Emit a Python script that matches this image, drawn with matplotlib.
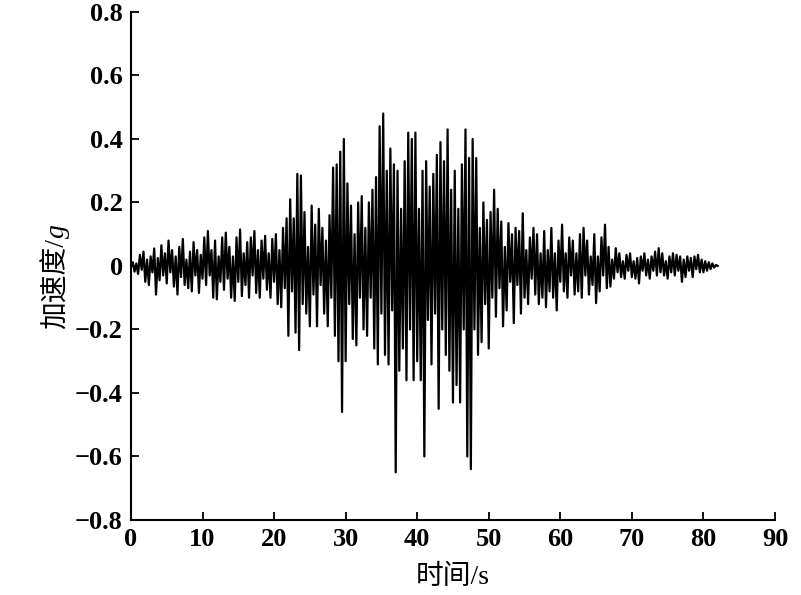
import numpy as np
import matplotlib
matplotlib.use("Agg")
import matplotlib.pyplot as plt
from matplotlib.ticker import FuncFormatter

plt.rcParams['font.family'] = ['Liberation Serif', 'Noto Sans CJK SC']

# ground acceleration record (g), one sample every 0.25 s
dt = 0.25
acc_00_10 = [0.0, 0.012, -0.018, 0.008, -0.025, 0.035, -0.012, 0.045, -0.05, 0.02,
             -0.06, 0.03, -0.02, 0.055, -0.09, 0.025, -0.045, 0.065, -0.03, 0.04,
             -0.055, 0.08, -0.02, 0.05, -0.065, 0.03, -0.09, 0.06, -0.035, 0.085,
             -0.06, 0.02, -0.07, 0.045, -0.08, 0.075, -0.03, 0.05, -0.085, 0.035]
acc_10_20 = [-0.04, 0.09, -0.06, 0.11, -0.03, 0.05, -0.1, 0.08, -0.105, 0.03,
             -0.05, 0.09, -0.075, 0.105, -0.04, 0.06, -0.1, 0.03, -0.11, 0.09,
             -0.05, 0.115, -0.095, 0.04, -0.06, 0.075, -0.1, 0.09, -0.03, 0.11,
             -0.085, 0.05, -0.1, 0.08, -0.04, 0.095, -0.075, 0.04, -0.1, 0.085]
acc_20_30 = [-0.05, 0.1, -0.12, 0.05, -0.13, 0.12, -0.07, 0.15, -0.22, 0.21,
             -0.08, 0.15, -0.21, 0.29, -0.265, 0.285, -0.12, 0.17, -0.15, 0.06,
             -0.19, 0.19, -0.09, 0.13, -0.19, 0.18, -0.06, 0.12, -0.15, 0.08,
             -0.19, 0.16, -0.1, 0.31, -0.22, 0.32, -0.3, 0.36, -0.46, 0.4]
acc_30_40 = [-0.3, 0.26, -0.12, 0.19, -0.23, 0.1, -0.25, 0.2, -0.1, 0.22,
             -0.2, 0.12, -0.22, 0.2, -0.1, 0.24, -0.26, 0.28, -0.31, 0.44,
             -0.15, 0.48, -0.28, 0.3, -0.31, 0.37, -0.14, 0.32, -0.65, 0.3,
             -0.33, 0.18, -0.26, 0.33, -0.36, 0.42, -0.2, 0.4, -0.36, 0.42]
acc_40_50 = [-0.3, 0.18, -0.36, 0.3, -0.6, 0.33, -0.17, 0.25, -0.31, 0.29,
             -0.15, 0.35, -0.45, 0.39, -0.2, 0.33, -0.28, 0.43, -0.33, 0.24,
             -0.43, 0.3, -0.375, 0.18, -0.43, 0.32, -0.2, 0.43, -0.6, 0.34,
             -0.64, 0.4, -0.2, 0.34, -0.28, 0.12, -0.24, 0.2, -0.12, 0.145]
acc_50_60 = [-0.26, 0.17, -0.1, 0.24, -0.16, 0.18, -0.07, 0.14, -0.19, 0.06,
             -0.14, 0.135, -0.05, 0.1, -0.18, 0.12, -0.06, 0.11, -0.15, 0.166,
             -0.1, 0.05, -0.12, 0.09, -0.04, 0.12, -0.09, 0.1, -0.12, 0.04,
             -0.1, 0.11, -0.13, 0.05, -0.08, 0.12, -0.1, 0.04, -0.14, 0.08]
acc_60_70 = [-0.05, 0.13, -0.08, 0.04, -0.1, 0.09, -0.03, 0.08, -0.09, 0.04,
             -0.08, 0.1, -0.1, 0.12, -0.03, 0.08, -0.09, 0.03, -0.06, 0.1,
             -0.117, 0.03, -0.08, 0.09, -0.03, 0.13, -0.07, 0.06, -0.065, 0.02,
             -0.04, 0.056, -0.02, 0.04, -0.035, 0.015, -0.04, 0.035, -0.015, 0.04]
acc_70_82 = [-0.035, 0.015, -0.04, 0.025, -0.055, 0.03, -0.015, 0.04, -0.03, 0.02,
             -0.04, 0.03, -0.015, 0.045, -0.03, 0.056, -0.02, 0.04, -0.03, 0.015,
             -0.04, 0.03, -0.02, 0.04, -0.03, 0.035, -0.015, 0.03, -0.05, 0.02,
             -0.035, 0.03, -0.015, 0.025, -0.035, 0.03, -0.01, 0.035, -0.02, 0.02,
             -0.02, 0.015, -0.015, 0.012, -0.01, 0.008, -0.005, 0.003, 0.0]

acc = np.array(acc_00_10 + acc_10_20 + acc_20_30 + acc_30_40 +
               acc_40_50 + acc_50_60 + acc_60_70 + acc_70_82)
t = np.arange(len(acc)) * dt

xticks = [0, 10, 20, 30, 40, 50, 60, 70, 80, 90]
yticks = [-0.8, -0.6, -0.4, -0.2, 0, 0.2, 0.4, 0.6, 0.8]

fig = plt.figure(figsize=(8.01, 5.95), dpi=100)
ax = fig.add_axes([0.1635, 0.1261, 0.804, 0.8538])
ax.plot(t, acc, color='black', linewidth=1.6)

ax.set_xlim(0, 90)
ax.set_ylim(-0.8, 0.8)
ax.set_xticks(xticks)
ax.set_yticks(yticks)
ax.yaxis.set_major_formatter(FuncFormatter(lambda v, p: '0' if abs(v) < 1e-9 else f'{v:.1f}'.replace('-', '\u2212')))

for s in ['top', 'right']:
    ax.spines[s].set_visible(False)
for s in ['left', 'bottom']:
    ax.spines[s].set_linewidth(1.5)
ax.tick_params(direction='in', length=6, width=1.3, labelsize=19, pad=6)
for lab in ax.get_xticklabels() + ax.get_yticklabels():
    lab.set_fontweight('bold')

ax.set_xlabel('时间/s', fontsize=20, labelpad=10)

# y label: Chinese text plus an italic g, joined at one point on the baseline
yl_x, yl_y = 0.080, 0.600
fig.text(yl_x, yl_y, '加速度/', fontsize=20, rotation=90, rotation_mode='anchor',
         ha='right', va='baseline')
fig.text(yl_x, yl_y, 'g', fontsize=20, rotation=90, rotation_mode='anchor',
         ha='left', va='baseline', family='Liberation Serif', style='italic')

plt.savefig('out.png', dpi=100)
